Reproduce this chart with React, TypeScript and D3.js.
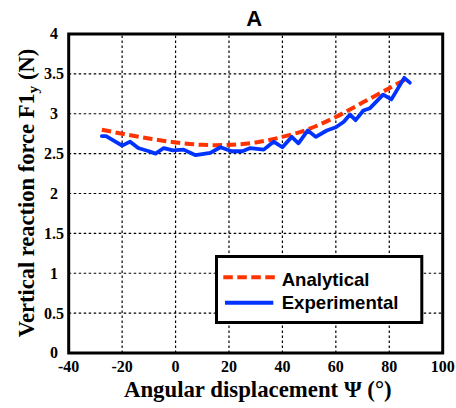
import React from "react";
import * as d3 from "d3";

const xTicks = [-40, -20, 0, 20, 40, 60, 80, 100];
const yTicks = [0, 0.5, 1, 1.5, 2, 2.5, 3, 3.5, 4];
const yTickLabels = ["0", "0.5", "1", "1.5", "2", "2.5", "3", "3.5", "4"];

const analyticalX = [-27.6, -20, -10, 0, 10, 20, 30, 40, 50, 60, 70, 80, 86.5];
const analyticalY = [2.8, 2.75, 2.69, 2.64, 2.61, 2.61, 2.64, 2.71, 2.81, 2.96, 3.14, 3.32, 3.44];

const experimentalX = [
  -27.6, -26, -23, -20, -17, -14, -10, -7.5, -4.4, -1, 3, 7.5, 13, 16.8, 21, 25, 28, 33,
  36.7, 40, 43.5, 46, 49.5, 52.5, 56.6, 60, 63, 65.3, 67.4, 70.3, 72.8, 77.7, 80.8, 85.6, 87.7,
];
const experimentalY = [
  2.72, 2.72, 2.66, 2.6, 2.65, 2.57, 2.53, 2.5, 2.57, 2.54, 2.55, 2.48, 2.51, 2.58, 2.53, 2.53,
  2.57, 2.55, 2.65, 2.58, 2.71, 2.63, 2.79, 2.71, 2.79, 2.83, 2.9, 2.99, 2.92, 3.04, 3.07, 3.24,
  3.18, 3.45, 3.39,
];

const RED = "#ff3300";
const BLUE = "#0033ff";

export default function App() {
  const W = 456;
  const H = 408;
  const x = d3.scaleLinear().domain([-40, 100]).range([68.7, 442.7]);
  const y = d3.scaleLinear().domain([0, 4]).range([353, 34]);

  const anaPts: [number, number][] = analyticalX.map((v, i) => [v, analyticalY[i]]);
  const expPts: [number, number][] = experimentalX.map((v, i) => [v, experimentalY[i]]);

  const anaLine = d3
    .line<[number, number]>()
    .x((d) => x(d[0]))
    .y((d) => y(d[1]))
    .curve(d3.curveCatmullRom);
  const expLine = d3
    .line<[number, number]>()
    .x((d) => x(d[0]))
    .y((d) => y(d[1]));

  const serif = "'Liberation Serif', 'Times New Roman', serif";
  const sans = "'Liberation Sans', Arial, sans-serif";

  return (
    <svg
      width={W}
      height={H}
      style={{ position: "absolute", left: 0, top: 0, background: "#fff" }}
    >
      <rect x={0} y={0} width={W} height={H} fill="#fff" />
      {/* grid */}
      {xTicks.slice(1, -1).map((t) => (
        <line
          key={"gx" + t}
          x1={x(t)}
          x2={x(t)}
          y1={y(0)}
          y2={y(4)}
          stroke="#000"
          strokeWidth={1.2}
          strokeDasharray="2.5,2.5"
        />
      ))}
      {yTicks.slice(1, -1).map((t) => (
        <line
          key={"gy" + t}
          x1={x(-40)}
          x2={x(100)}
          y1={y(t)}
          y2={y(t)}
          stroke="#000"
          strokeWidth={1.2}
          strokeDasharray="2.5,2.5"
        />
      ))}
      {/* curves */}
      <path
        d={anaLine(anaPts) || ""}
        fill="none"
        stroke={RED}
        strokeWidth={4}
        strokeDasharray="9.5,4.5"
      />
      <path
        d={expLine(expPts) || ""}
        fill="none"
        stroke={BLUE}
        strokeWidth={3.8}
        strokeLinejoin="round"
        strokeLinecap="round"
      />
      {/* frame */}
      <rect
        x={x(-40)}
        y={y(4)}
        width={x(100) - x(-40)}
        height={y(0) - y(4)}
        fill="none"
        stroke="#000"
        strokeWidth={3}
      />
      {/* legend */}
      <rect x={216.5} y={256.5} width={205.3} height={66} fill="#fff" stroke="#000" strokeWidth={3} />
      <line x1={223.3} x2={276} y1={277.3} y2={277.3} stroke={RED} strokeWidth={4} strokeDasharray="9.5,4.5" />
      <line x1={225} x2={273.3} y1={302.7} y2={302.7} stroke={BLUE} strokeWidth={4} />
      <text x={281.7} y={286} fontFamily={sans} fontWeight="bold" fontSize={18.6} fill="#000">
        Analytical
      </text>
      <text x={281.7} y={308.5} fontFamily={sans} fontWeight="bold" fontSize={18.6} fill="#000">
        Experimental
      </text>
      {/* x tick labels */}
      {xTicks.map((t) => (
        <text
          key={"xl" + t}
          x={x(t)}
          y={371.7}
          textAnchor="middle"
          fontFamily={serif}
          fontWeight="bold"
          fontSize={16}
          fill="#000"
        >
          {t}
        </text>
      ))}
      {/* y tick labels */}
      {yTicks.map((t, i) => (
        <text
          key={"yl" + t}
          x={54}
          y={y(t) + 5.4}
          textAnchor="middle"
          fontFamily={serif}
          fontWeight="bold"
          fontSize={16}
          fill="#000"
        >
          {yTickLabels[i]}
        </text>
      ))}
      {/* axis titles */}
      <text
        x={257.8}
        y={396.7}
        textAnchor="middle"
        fontFamily={serif}
        fontWeight="bold"
        fontSize={22.8}
        fill="#000"
      >
        Angular displacement Ψ (°)
      </text>
      <text
        transform="translate(33.5,193) rotate(-90)"
        textAnchor="middle"
        fontFamily={serif}
        fontWeight="bold"
        fontSize={22.5}
        fill="#000"
      >
        Vertical reaction force F1
        <tspan fontSize={15.5} dy={4}>y</tspan>
        <tspan dy={-4}> (N)</tspan>
      </text>
      {/* title */}
      <text x={254.3} y={26} textAnchor="middle" fontFamily={sans} fontWeight="bold" fontSize={22} fill="#000">
        A
      </text>
    </svg>
  );
}
